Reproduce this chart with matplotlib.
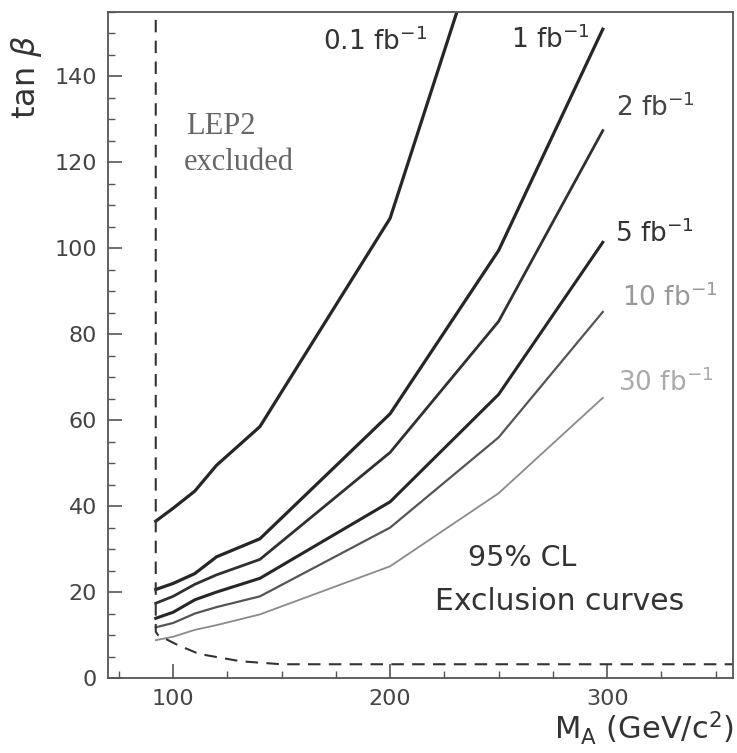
import matplotlib
matplotlib.use('Agg')
import matplotlib.pyplot as plt
from matplotlib.ticker import MultipleLocator

mass = [92, 100, 110, 120, 140, 200, 250, 298]
mass_01 = [92, 100, 110, 120, 140, 200, 250]

tb_01fb = [36.5, 39.5, 43.5, 49.5, 58.5, 107, 185]
tb_1fb = [20.6, 22.0, 24.3, 28.2, 32.4, 61.5, 99.5, 151]
tb_2fb = [17.4, 19.0, 21.8, 24.0, 27.6, 52.5, 83, 127.4]
tb_5fb = [13.9, 15.3, 18.2, 20.0, 23.2, 41, 66, 101.4]
tb_10fb = [11.8, 12.8, 15.0, 16.5, 19.0, 35, 56, 85.2]
tb_30fb = [8.8, 9.6, 11.2, 12.3, 14.8, 26, 43, 65.2]

curve_labels = ['0.1 fb$^{-1}$', '1 fb$^{-1}$', '2 fb$^{-1}$',
                '5 fb$^{-1}$', '10 fb$^{-1}$', '30 fb$^{-1}$']

# LEP2 excluded region boundary
lep_m = [92, 92, 93, 102, 112, 131, 150, 360]
lep_tb = [160, 10.8, 10.0, 7.7, 5.6, 3.9, 3.2, 3.2]

fig = plt.figure(figsize=(7.37, 7.53), dpi=100)
ax = fig.add_axes([108/737, 1 - 678/753, 625/737, 666/753])

frame = '#555555'
curves = [
    (mass_01, tb_01fb, '#262626', 2.3),
    (mass, tb_1fb, '#262626', 2.3),
    (mass, tb_2fb, '#303030', 2.0),
    (mass, tb_5fb, '#262626', 2.2),
    (mass, tb_10fb, '#555555', 1.6),
    (mass, tb_30fb, '#8a8a8a', 1.3),
]
for m, tb, c, lw in curves:
    ax.plot(m, tb, color=c, lw=lw, solid_joinstyle='round')

ax.plot(lep_m, lep_tb, color='#333333', lw=1.5, ls=(0, (6, 4)))

ax.set_xlim(70, 358)
ax.set_ylim(0, 155)
ax.xaxis.set_major_locator(MultipleLocator(100))
ax.xaxis.set_minor_locator(MultipleLocator(25))
ax.yaxis.set_major_locator(MultipleLocator(20))
ax.yaxis.set_minor_locator(MultipleLocator(5))
ax.tick_params(which='both', direction='in', colors=frame, labelcolor='#444444',
               labelsize=16, top=False, right=False)
ax.tick_params(which='major', length=10, width=1.2)
ax.tick_params(which='minor', length=5, width=1.0)
ax.tick_params(axis='x', pad=8)
ax.tick_params(axis='y', pad=8)
for s in ax.spines.values():
    s.set_color(frame)
    s.set_linewidth(1.3)

# curve labels
lab_pos = [(323, 42), (511, 40), (616, 108), (615, 234), (622, 298), (618, 383)]
lab_col = ['#333333', '#333333', '#444444', '#333333', '#999999', '#aaaaaa']
for txt, (px, py), c in zip(curve_labels, lab_pos, lab_col):
    fig.text(px/737, 1 - py/753, txt, fontsize=19, color=c, ha='left', va='center')

fig.text(186/737, 1 - 127/753, 'LEP2', fontsize=22, color='#666666',
         family='Liberation Serif', ha='left', va='center')
fig.text(184/737, 1 - 162/753, 'excluded', fontsize=22, color='#666666',
         family='Liberation Serif', ha='left', va='center')

fig.text(522/737, 1 - 558/753, '95% CL', fontsize=20.5, color='#333333',
         ha='center', va='center')
fig.text(560/737, 1 - 601/753, 'Exclusion curves', fontsize=21.5, color='#333333',
         ha='center', va='center')

fig.text(734/737, 1 - 728/753, r'M$_{\mathregular{A}}$ (GeV/c$^2$)', fontsize=22,
         color='#333333', ha='right', va='center')
fig.text(26/737, 1 - 77/753, r'tan $\beta$', fontsize=23, color='#333333',
         rotation=90, ha='center', va='center')

fig.savefig('out.png', dpi=100)
